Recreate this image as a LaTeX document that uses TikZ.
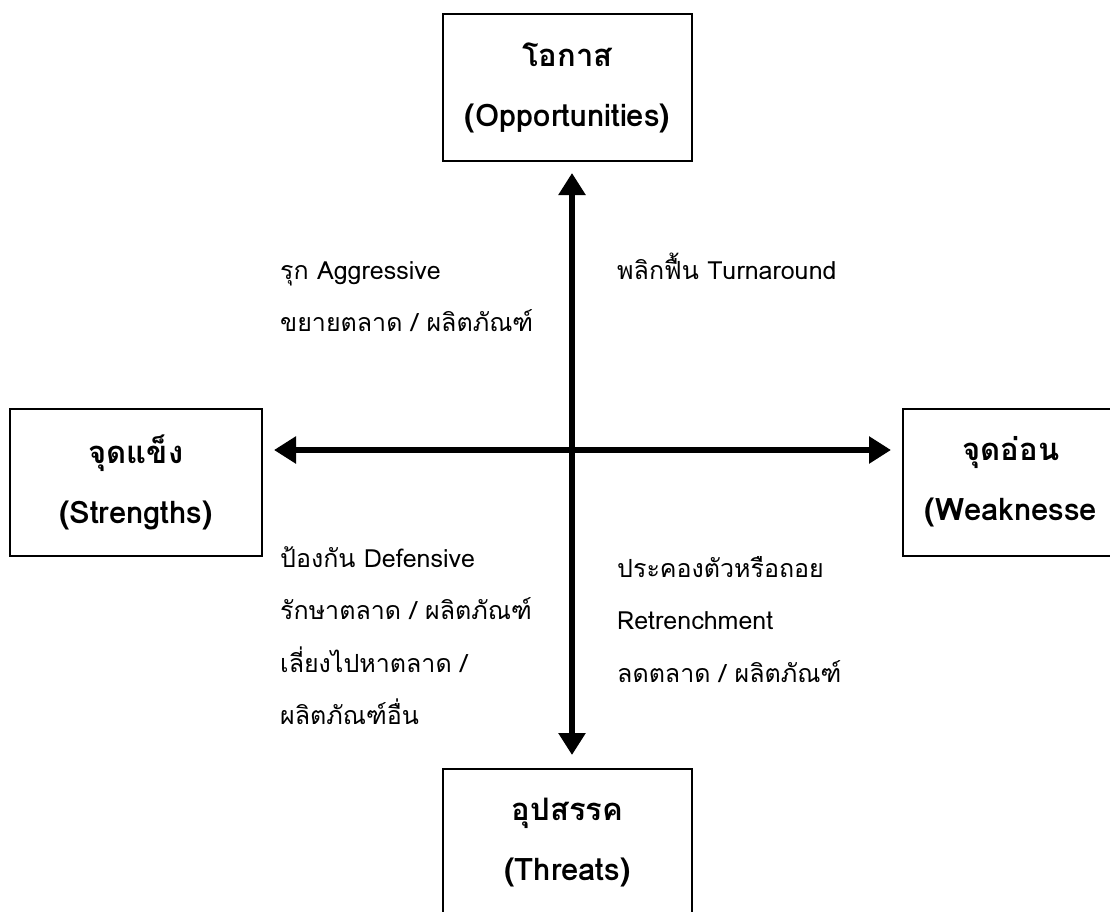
\documentclass[tikz,border=0pt]{standalone}
\usepackage{fontspec}
\setmainfont[Script=Thai]{Loma}
\usetikzlibrary{arrows.meta}

\tikzset{
	swotbox/.style={draw=black,line width=2pt,fill=white,align=center,inner sep=0pt,minimum height=147pt,font=\bfseries\fontsize{31}{60}\selectfont},
	axis/.style={line width=6pt,{Triangle[length=22pt,width=26pt]}-{Triangle[length=22pt,width=26pt]}},
	quad/.style={align=left,anchor=north west,inner sep=0pt,font=\fontsize{25}{52.5}\selectfont}
}

\begin{document}
\begin{tikzpicture}[x=1pt,y=-1pt]
	\useasboundingbox (0,0) rectangle (1110,911);
	\clip (0,0) rectangle (1110,911);
	\fill[white] (0,0) rectangle (1110,911);
	% boxes
	\node[swotbox,minimum width=249pt] (opp) at (567.5,87.5) {โอกาส\\(Opportunities)};
	\node[swotbox,minimum width=252pt] (str) at (136,482) {จุดแข็ง\\(Strengths)};
	\node[swotbox,minimum width=216pt] (wea) at (1011,482) {จุดอ่อน\\(Weaknesse};
	\node[swotbox,minimum width=249pt] (thr) at (567.5,842.5) {อุปสรรค\\(Threats)};
	% axes
	\coordinate (c) at (572,450);
	\draw[axis,shorten <=11pt,shorten >=13pt] (c |- opp.south) -- (c |- thr.north);
	\draw[axis,shorten <=11pt,shorten >=11pt] (str.east |- c) -- (wea.west |- c);
	% quadrant texts
	\node[quad] (agg) at (280,261) {รุก Aggressive\\ขยายตลาด / ผลิตภัณฑ์};
	\node[quad] (turn) at (617,253) {พลิกฟื้น Turnaround};
	\node[quad] (def) at (280,546) {ป้องกัน Defensive\\รักษาตลาด / ผลิตภัณฑ์\\เลี่ยงไปหาตลาด /\\ผลิตภัณฑ์อื่น};
	\node[quad] (ret) at (617,556) {ประคองตัวหรือถอย\\Retrenchment\\ลดตลาด / ผลิตภัณฑ์};
\end{tikzpicture}
\end{document}
